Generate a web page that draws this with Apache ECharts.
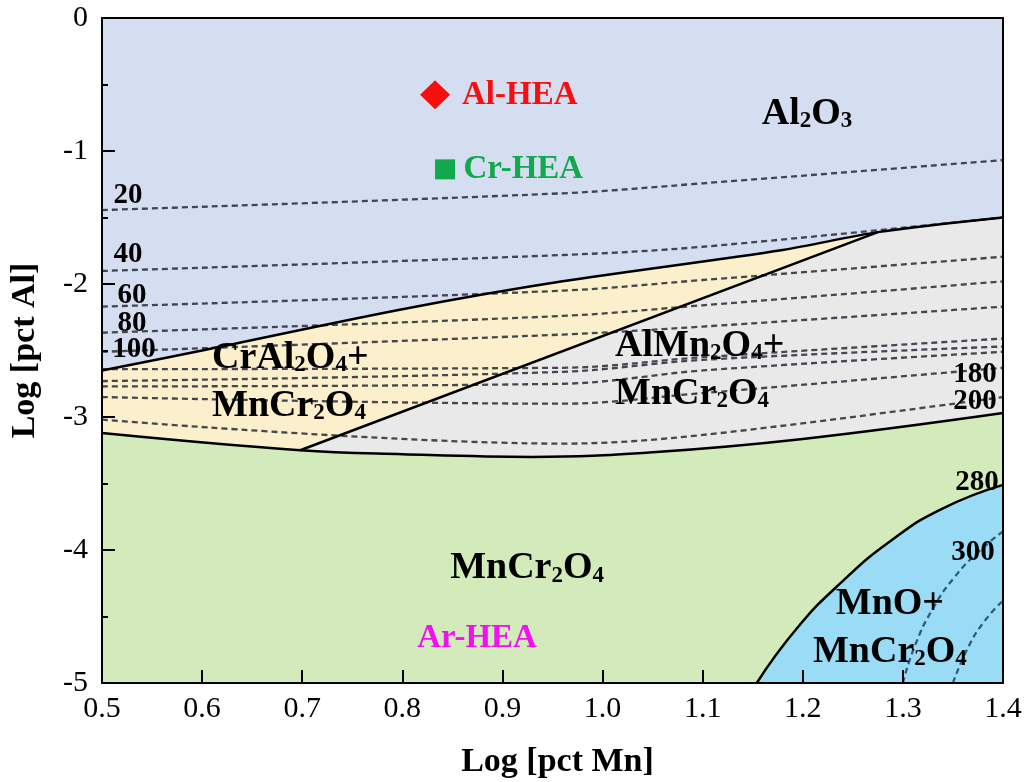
<!DOCTYPE html>
<html><head><meta charset="utf-8">
<script src="https://cdn.jsdelivr.net/npm/echarts@6/dist/echarts.min.js"></script>
<style>html,body{margin:0;padding:0;background:#fff}#c{width:1030px;height:782px}</style>
</head><body><div id="c"></div>
<script>
// ---- phase boundaries (Log pct Mn, Log pct Al) ----
const alBoundX = [0.5, 0.6, 0.8, 0.96, 1.18, 1.275, 1.4];
const alBoundY = [-2.65, -2.50, -2.19, -1.98, -1.744, -1.61, -1.50];
const ygLineX = [0.698, 1.275, 1.4];
const ygLineY = [-3.25, -1.61, -1.50];
const greenBoundX = [0.5, 0.698, 0.8, 0.93, 1.05, 1.2, 1.4];
const greenBoundY = [-3.12, -3.25, -3.28, -3.30, -3.265, -3.165, -2.97];
const mnoBoundX = [1.154, 1.194, 1.239, 1.289, 1.339, 1.400];
const mnoBoundY = [-5, -4.59, -4.24, -3.925, -3.69, -3.51];

// ---- iso lines (dashed) ----
const isoX = [0.5, 0.96, 1.1, 1.4];
const iso20 = [-1.444, -1.318, -1.243, -1.068];
const iso40 = [-1.902, -1.782, -1.72, -1.50];
const iso60 = [-2.17, -2.05, -1.97, -1.795];
const iso80 = [-2.366, -2.24, -2.16, -1.98];
const iso100 = [-2.51, -2.38, -2.32, -2.17];
const iso120 = [-2.64, -2.63, -2.55, -2.41];
const iso140 = [-2.73, -2.66, -2.57, -2.47];
const iso160 = [-2.77, -2.75, -2.65, -2.51];
const iso180 = [-2.85, -2.90, -2.82, -2.63];
const iso200 = [-3.02, -3.20, -3.135, -2.85];
const iso300X = [1.300, 1.312, 1.330, 1.352, 1.376, 1.400];
const iso300Y = [-5, -4.72, -4.44, -4.20, -4.01, -3.86];
const iso320X = [1.350, 1.364, 1.380, 1.400];
const iso320Y = [-5, -4.75, -4.55, -4.38];

// ---- iso line labels ----
const isoLabelText = ['20', '40', '60', '80', '100', '180', '200', '280', '300'];
const isoLabelX = [0.526, 0.526, 0.530, 0.530, 0.532, 1.372, 1.372, 1.374, 1.370];
const isoLabelY = [-1.331, -1.782, -2.09, -2.297, -2.489, -2.677, -2.887, -3.489, -4.019];

// ---- phase region labels ----
const regionText = ['Al2O3', 'CrAl2O4+\nMnCr2O4', 'AlMn2O4+\nMnCr2O4', 'MnCr2O4', 'MnO+\nMnCr2O4'];
const regionX = [1.2043, 0.6099, 1.0125, 0.9246, 1.287];
const regionY = [-0.72, -2.737, -2.647, -4.14, -4.59];
const regionAlign = ['center', 'left', 'left', 'center', 'center'];

// ---- samples ----
const alHEA = [0.8327, -0.5765];
const crHEA = [0.8427, -1.138];
const sampleText = ['Al-HEA', 'Cr-HEA', 'Ar-HEA'];
const sampleTextX = [0.8596, 0.861, 0.8746];
const sampleTextY = [-0.583, -1.139, -4.665];

// ---- axes ----
const xMin = 0.5, xMax = 1.4, xStep = 0.1;
const yMin = -5, yMax = 0, yStep = 1;

const FONT = "'Liberation Serif', 'Times New Roman', serif";
const zip = (xs, ys) => xs.map((x, i) => [x, ys[i]]);

const C_YEL = '#fcefcb', C_GRAY = '#e9e9e9', C_GREEN = '#d3eaba', C_MNO = '#9adcf5', C_AL2O3 = '#d5ddf0';
const DASH = '#2c303b';

function fill(name, pts, color, smooth) {
  return { name, type: 'line', data: pts, smooth: smooth, symbol: 'none', silent: true, z: 1,
    lineStyle: { opacity: 0 }, areaStyle: { color, opacity: 1, origin: 'start' } };
}
function bound(pts, smooth) {
  return { type: 'line', data: pts, smooth: smooth, symbol: 'none', silent: true, z: 4,
    lineStyle: { color: '#000', width: 2.5 } };
}
function dashed(pts, color, smooth) {
  return { type: 'line', data: pts, smooth: smooth, symbol: 'none', silent: true, z: 3,
    lineStyle: { color, width: 2.3, type: [6, 4], opacity: 0.88 } };
}
const sub = s => s.replace(/(\d)/g, '{s|$1}');

const isoSets = [iso20, iso40, iso60, iso80, iso100, iso120, iso140, iso160, iso180, iso200];

const series = [
  fill('CrAl2O4+MnCr2O4', zip(alBoundX, alBoundY), C_YEL, 0.3),
  fill('AlMn2O4+MnCr2O4', zip(ygLineX, ygLineY), C_GRAY, false),
  fill('MnCr2O4', zip(greenBoundX, greenBoundY), C_GREEN, 0.4),
  fill('MnO+MnCr2O4', zip(mnoBoundX, mnoBoundY), C_MNO, 0.5),
];
isoSets.forEach(ys => series.push(dashed(zip(isoX, ys), DASH, 0.35)));
series.push(dashed(zip(iso300X, iso300Y), '#1d4a72', 0.5));
series.push(dashed(zip(iso320X, iso320Y), '#1d4a72', 0.5));
series.push(bound(zip(alBoundX, alBoundY), 0.3));
series.push(bound(zip(ygLineX.slice(0, 2), ygLineY.slice(0, 2)), false));
series.push(bound(zip(greenBoundX, greenBoundY), 0.4));
series.push(bound(zip(mnoBoundX, mnoBoundY), 0.5));

// markers
series.push({ type: 'scatter', z: 6, silent: true, symbol: 'diamond', symbolSize: [30, 29],
  itemStyle: { color: '#f50f0f', opacity: 1 }, data: [alHEA] });
series.push({ type: 'scatter', z: 6, silent: true, symbol: 'rect', symbolSize: 20,
  itemStyle: { color: '#12a84c', opacity: 1 }, data: [crHEA] });

// text annotations
const labelBase = { type: 'scatter', z: 7, silent: true, symbol: 'circle', symbolSize: 1,
  itemStyle: { color: 'rgba(0,0,0,0)', opacity: 1 } };
series.push(Object.assign({}, labelBase, {
  data: isoLabelText.map((t, i) => ({ value: [isoLabelX[i], isoLabelY[i]],
    label: { show: true, position: 'inside', formatter: t, fontFamily: FONT, fontSize: 29,
      fontWeight: 'bold', color: '#000', opacity: 1 } }))
}));
const sampleColors = ['#f50f0f', '#12a84c', '#f010f0'];
const sampleAlign = ['left', 'left', 'center'];
series.push(Object.assign({}, labelBase, {
  data: sampleText.map((t, i) => ({ value: [sampleTextX[i], sampleTextY[i]],
    label: { show: true, position: 'inside', align: sampleAlign[i], verticalAlign: 'middle', opacity: 1,
      formatter: t, fontFamily: FONT, fontSize: 33, fontWeight: 'bold', color: sampleColors[i] } }))
}));
series.push(Object.assign({}, labelBase, {
  data: regionText.map((t, i) => ({ value: [regionX[i], regionY[i]],
    label: { show: true, position: 'inside', align: regionAlign[i], verticalAlign: 'middle', opacity: 1,
      formatter: sub(t), fontFamily: FONT, fontSize: 38, fontWeight: 'bold', color: '#000',
      lineHeight: 48,
      rich: { s: { fontFamily: FONT, fontSize: 23, fontWeight: 'bold', color: '#000',
        verticalAlign: 'bottom', lineHeight: 34, height: 34 } } } }))
}));

const chart = echarts.init(document.getElementById('c'), null, { renderer: 'canvas' });
chart.setOption({
  animation: false,
  backgroundColor: '#fff',
  grid: { left: 102, right: 27, top: 18, bottom: 99, show: true, backgroundColor: C_AL2O3,
    borderWidth: 0, containLabel: false, outerBoundsMode: 'none' },
  xAxis: [{
    type: 'value', min: xMin, max: xMax, interval: xStep, z: 10,
    axisLine: { show: true, onZero: false, lineStyle: { color: '#000', width: 2 } },
    axisTick: { show: true, inside: true, length: 13, lineStyle: { color: '#000', width: 2 } },
    axisLabel: { formatter: v => v.toFixed(1), fontFamily: FONT, fontSize: 30, color: '#000', margin: 11 },
    splitLine: { show: false },
    name: 'Log [pct Mn]', nameLocation: 'middle', nameGap: 62,
    nameTextStyle: { fontFamily: FONT, fontSize: 34, fontWeight: 'bold', color: '#000', padding: [0, 0, 0, 10] }
  }, {
    type: 'value', position: 'top', min: xMin, max: xMax, z: 10,
    axisLine: { show: true, onZero: false, lineStyle: { color: '#000', width: 2 } },
    axisTick: { show: false }, axisLabel: { show: false }, splitLine: { show: false }
  }],
  yAxis: [{
    type: 'value', min: yMin, max: yMax, interval: yStep, z: 10,
    axisLine: { show: true, onZero: false, lineStyle: { color: '#000', width: 2 } },
    axisTick: { show: true, inside: true, length: 13, lineStyle: { color: '#000', width: 2 } },
    minorTick: { show: true, splitNumber: 2, length: 6, lineStyle: { color: '#000', width: 2 } },
    axisLabel: { formatter: v => String(v), fontFamily: FONT, fontSize: 30, color: '#000', margin: 14 },
    splitLine: { show: false },
    name: 'Log [pct Al]', nameLocation: 'middle', nameGap: 46,
    nameTextStyle: { fontFamily: FONT, fontSize: 34, fontWeight: 'bold', color: '#000', padding: [0, 0, 14, 0] }
  }, {
    type: 'value', position: 'right', min: yMin, max: yMax, z: 10,
    axisLine: { show: true, onZero: false, lineStyle: { color: '#000', width: 2 } },
    axisTick: { show: false }, axisLabel: { show: false }, splitLine: { show: false }
  }],
  series: series
});
</script></body></html>
